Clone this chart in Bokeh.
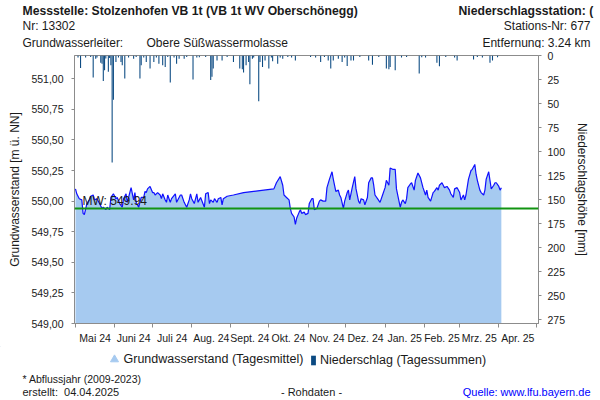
from datetime import date
from bokeh.plotting import figure
from bokeh.layouts import column
from bokeh.models import (Range1d, LinearAxis, FixedTicker, Span, Label, Legend, LegendItem)
from bokeh.embed import file_html
from bokeh.resources import INLINE

# ---------------- data ----------------
START = date(2024, 5, 1)
month_list = [(2024, 5), (2024, 6), (2024, 7), (2024, 8), (2024, 9), (2024, 10), (2024, 11),
              (2024, 12), (2025, 1), (2025, 2), (2025, 3), (2025, 4), (2025, 5)]
month_labels = ["Mai 24", "Juni 24", "Juli 24", "Aug. 24", "Sept. 24", "Okt. 24", "Nov. 24",
                "Dez. 24", "Jan. 25", "Feb. 25", "Mrz. 25", "Apr. 25"]

# groundwater level (daily mean), day offset from 2024-05-01
gw_day = [0, 1, 3, 5, 6, 7, 9, 11, 12, 14, 15, 17, 19, 21, 22, 24, 25, 27, 28, 30,
          32, 33, 35, 37, 38, 40, 41, 42, 44, 46, 47, 48, 50, 51, 52, 54, 55, 56, 57, 59,
          61, 62, 63, 65, 67, 68, 69, 71, 72, 73, 75, 76, 79, 80, 83, 84, 86, 88, 90, 91,
          92, 94, 96, 97, 99, 102, 103, 105, 106, 107, 109, 110, 112, 113, 115, 116, 117, 120, 125, 133,
          141, 149, 157, 159, 162, 164, 165, 167, 169, 170, 171, 173, 174, 175, 177, 178, 179, 181, 182, 184,
          185, 187, 188, 189, 191, 193, 194, 196, 198, 199, 201, 203, 204, 206, 208, 209, 210, 212, 213, 215,
          216, 217, 219, 221, 222, 224, 225, 226, 228, 229, 231, 232, 234, 235, 236, 237, 239, 241, 243, 245,
          246, 248, 249, 251, 253, 254, 255, 257, 258, 259, 261, 262, 263, 265, 266, 268, 269, 271, 273, 275,
          277, 278, 279, 281, 283, 284, 286, 287, 288, 290, 292, 294, 296, 297, 299, 300, 302, 304, 305, 307,
          308, 309, 311, 313, 314, 316, 317, 318, 320, 321, 323, 324, 325, 327, 328, 329, 331, 332, 333, 335,
          336, 337]
gw_level = [550.10, 550.06, 550.02, 550.01, 549.90, 549.89, 549.98, 550.01, 550.04, 550.05,
            550.01, 550.02, 549.98, 549.94, 549.95, 549.93, 549.95, 549.93, 550.03, 550.06,
            550.02, 550.03, 549.98, 549.95, 550.02, 550.06, 549.99, 550.03, 550.11, 550.01,
            550.07, 549.99, 549.95, 549.99, 550.03, 550.03, 550.08, 550.07, 550.10, 550.12,
            550.07, 550.07, 550.05, 550.07, 550.05, 550.02, 550.06, 550.01, 549.99, 550.05,
            549.99, 550.02, 550.06, 549.99, 550.05, 550.05, 549.99, 549.95, 550.01, 550.06,
            550.02, 549.98, 550.06, 549.99, 550.03, 549.95, 550.06, 550.07, 549.98, 550.01,
            549.99, 550.02, 549.99, 550.02, 550.03, 549.97, 550.02, 550.04, 550.05, 550.07,
            550.08, 550.09, 550.10, 550.15, 550.20, 550.13, 550.05, 550.03, 550.01, 549.94,
            549.90, 549.87, 549.81, 549.86, 549.91, 549.93, 549.90, 549.91, 549.89, 549.90,
            549.98, 550.02, 550.02, 549.93, 549.94, 550.00, 550.01, 550.00, 550.00, 550.11,
            550.18, 550.24, 550.18, 550.08, 550.09, 550.05, 550.03, 549.94, 550.00, 550.07,
            550.09, 550.01, 550.11, 550.20, 550.10, 550.00, 549.98, 550.02, 550.01, 549.97,
            550.03, 550.15, 550.19, 550.19, 550.13, 550.05, 550.02, 549.99, 550.05, 550.11,
            550.17, 550.13, 550.27, 550.26, 550.26, 550.10, 550.05, 549.95, 549.99, 550.01,
            549.98, 550.02, 550.11, 550.14, 550.15, 550.09, 550.17, 550.23, 550.19, 550.11,
            550.05, 550.09, 550.03, 550.00, 550.07, 550.08, 550.11, 550.09, 550.13, 550.15,
            550.11, 550.12, 550.09, 550.06, 550.03, 550.10, 550.11, 550.07, 550.01, 550.05,
            550.01, 550.05, 550.18, 550.25, 550.26, 550.30, 550.22, 550.17, 550.09, 550.07,
            550.05, 550.09, 550.18, 550.24, 550.17, 550.10, 550.13, 550.15, 550.15, 550.12,
            550.09, 550.11]

# precipitation (daily sums, mm), day offset from 2024-05-01
pr_day = [2, 4, 8, 12, 14, 16, 17, 20, 21, 22, 23, 24, 26, 27, 28, 29, 30, 32, 34, 36,
          37, 39, 42, 46, 48, 51, 52, 54, 56, 59, 62, 64, 66, 69, 71, 73, 75, 78, 80, 82,
          86, 88, 93, 96, 98, 103, 107, 108, 109, 112, 116, 120, 125, 130, 132, 133, 135, 137, 138, 140,
          141, 145, 146, 148, 150, 153, 155, 156, 160, 162, 164, 168, 171, 174, 186, 190, 194, 197, 200, 202,
          204, 208, 211, 213, 215, 218, 220, 225, 232, 235, 240, 246, 248, 249, 253, 258, 262, 272, 274, 277,
          286, 288, 293, 300, 302, 315, 318, 322, 328, 330, 334]
pr_mm = [2, 13, 2, 1.5, 23, 3.4, 2, 7.5, 8.5, 26.6, 15.3, 3, 17, 2.5, 10.2, 111.5, 46, 6.8, 2, 6.8,
         10.2, 23.9, 2, 3.4, 1.5, 23.9, 10.2, 2, 6.8, 13.6, 6.8, 2, 8.5, 10.2, 11.9, 1.5, 28, 2, 8.5, 3.4,
         3.4, 1.5, 24.9, 2, 1.7, 1.5, 25.6, 22.2, 13.6, 5.1, 5.1, 1.5, 6.8, 13.6, 14.3, 17.7, 10.2, 6.8, 30, 3.4,
         2, 47.7, 6.8, 11.9, 5.1, 13.6, 2, 6.1, 8.5, 2, 3.4, 1.5, 2, 5.1, 1.5, 2, 6.8, 1.5, 5.1, 13.6,
         5.1, 3.4, 6.8, 2, 10.9, 5.1, 5.1, 1.5, 5.1, 9.5, 1.5, 13.6, 14.3, 11.9, 15.3, 2, 1.5, 18.7, 1.7, 2,
         7.5, 11.2, 1.5, 2, 5.1, 4.1, 1.5, 2, 7.5, 5.1, 1.7]

MEAN = 549.94
gw_ticks = [549.00, 549.25, 549.50, 549.75, 550.00, 550.25, 550.50, 550.75, 551.00]
pr_ticks = [0, 25, 50, 75, 100, 125, 150, 175, 200, 225, 250, 275]

assert len(gw_day) == len(gw_level)
assert len(pr_day) == len(pr_mm)

# ---------------- styles ----------------
FONT = "Liberation Sans"
TXT = "#1a1a1a"
AX = "#8c8c8c"
FILL = "#A6CAF0"
LINE = "#1010ff"
BAR = "#0b4a82"
GREEN = "#129412"
W = 600


def text_panel(height, y_top):
    f = figure(width=W, height=height, x_range=Range1d(0, W),
               y_range=Range1d(y_top + height, y_top),
               min_border=0, x_axis_location=None, y_axis_location=None,
               output_backend="svg", toolbar_location=None, frame_align=False)
    f.grid.visible = False
    f.outline_line_color = None
    return f


def lab(f, x, y, text, size="12px", bold=False, align="left", color=TXT):
    f.add_layout(Label(x=x, y=y, text=text, text_font=FONT, text_font_size=size,
                       text_color=color, text_font_style="bold" if bold else "normal",
                       text_align=align, text_baseline="middle"))


# ---------------- header ----------------
head = text_panel(48, 0)
lab(head, 22, 10, "Messstelle: Stolzenhofen VB 1t (VB 1t WV Oberschönegg)", size="12.2px", bold=True)
lab(head, 458, 10, "Niederschlagsstation: (", size="12.2px", bold=True)
lab(head, 22, 25, "Nr: 13302")
lab(head, 590, 25, "Stations-Nr: 677", align="right")
lab(head, 22, 42, "Grundwasserleiter:")
lab(head, 146, 42, "Obere Süßwassermolasse")
lab(head, 590, 42, "Entfernung: 3.24 km", align="right")

# ---------------- main chart ----------------
month_starts = [(date(y, m, 1) - START).days for (y, m) in month_list]
month_mids = [(a + b) / 2 for a, b in zip(month_starts[:-1], month_starts[1:])]

p = figure(width=W, height=298,
           x_range=Range1d(-0.79, 366.4), y_range=Range1d(549.0, 551.19),
           min_border_left=74, min_border_right=62, min_border_top=7, min_border_bottom=18,
           output_backend="svg", toolbar_location=None, frame_align=False)
p.extra_y_ranges = {"precip": Range1d(start=279.0, end=0.0)}
p.grid.visible = False
p.outline_line_color = AX

p.vbar(x=pr_day, top=0, bottom=pr_mm, width=0.85, y_range_name="precip",
       fill_color=BAR, line_color=None)
p.varea(x=gw_day, y1=549.0, y2=gw_level, fill_color=FILL)
p.line(gw_day, gw_level, line_color=LINE, line_width=1.2)

p.add_layout(Span(location=MEAN, dimension="width", line_color=GREEN, line_width=2))
p.add_layout(Label(x=8, x_units="screen", y=MEAN, y_units="data", y_offset=0,
                   text=f"MW: {MEAN:.2f}", text_font=FONT, text_font_size="12px",
                   text_color=TXT, text_baseline="bottom"))

xa = p.xaxis[0]
xa.ticker = FixedTicker(ticks=month_mids, minor_ticks=month_starts)
xa.major_label_overrides = {m: lab_ for m, lab_ in zip(month_mids, month_labels)}
xa.major_tick_line_color = None
xa.major_tick_out = 0
xa.major_tick_in = 0
xa.minor_tick_line_color = AX
xa.minor_tick_out = 4
xa.minor_tick_in = 0
xa.axis_line_color = AX
xa.major_label_text_font = FONT
xa.major_label_text_font_size = "10.5px"
xa.major_label_text_color = TXT
xa.major_label_standoff = 4

ya = p.yaxis[0]
ya.ticker = FixedTicker(ticks=gw_ticks, minor_ticks=[])
ya.major_label_overrides = {t: f"{t:.2f}".replace(".", ",") for t in gw_ticks}
ya.major_tick_out = 3
ya.major_tick_in = 0
ya.major_tick_line_color = AX
ya.minor_tick_line_color = None
ya.axis_line_color = AX
ya.major_label_text_font = FONT
ya.major_label_text_font_size = "10.5px"
ya.major_label_text_color = TXT
ya.major_label_standoff = 8
ya.axis_label = "Grundwasserstand [m ü. NN]"
ya.axis_label_text_font = FONT
ya.axis_label_text_font_size = "12px"
ya.axis_label_text_font_style = "normal"
ya.axis_label_text_color = TXT
ya.axis_label_standoff = 6

ra = LinearAxis(y_range_name="precip", ticker=FixedTicker(ticks=pr_ticks, minor_ticks=[]))
ra.major_tick_out = 3
ra.major_tick_in = 0
ra.major_tick_line_color = AX
ra.minor_tick_line_color = None
ra.axis_line_color = AX
ra.major_label_text_font = FONT
ra.major_label_text_font_size = "10.5px"
ra.major_label_text_color = TXT
ra.major_label_standoff = 6
ra.axis_label = "Niederschlagshöhe [mm]"
ra.axis_label_text_font = FONT
ra.axis_label_text_font_size = "12px"
ra.axis_label_text_font_style = "normal"
ra.axis_label_text_color = TXT
ra.axis_label_standoff = 7
p.add_layout(ra, "right")

# ---------------- footer (legend + notes) ----------------
foot = text_panel(54, 346)
# legend swatch renderers (kept outside the visible range, only their legend glyphs show)
tri = foot.scatter(x=[-50], y=[-50], marker="triangle", size=8, fill_color=FILL, line_color=FILL)
sq = foot.vbar(x=[-50], top=[-50], bottom=[-60], width=1, fill_color=BAR, line_color=None)

leg1 = Legend(items=[LegendItem(label="Grundwasserstand (Tagesmittel)", renderers=[tri])],
              location=(103.5, 31), orientation="horizontal",
              glyph_width=20, glyph_height=20, label_height=20, label_standoff=0,
              padding=0, margin=0, spacing=0, border_line_color=None, background_fill_alpha=0,
              label_text_font=FONT, label_text_font_size="12.5px", label_text_color=TXT)
leg2 = Legend(items=[LegendItem(label="Niederschlag (Tagessummen)", renderers=[sq])],
              location=(310, 33), orientation="horizontal",
              glyph_width=6, glyph_height=12, label_height=12, label_standoff=4,
              padding=0, margin=0, spacing=0, border_line_color=None, background_fill_alpha=0,
              label_text_font=FONT, label_text_font_size="12.5px", label_text_color=TXT)
foot.add_layout(leg1, "center")
foot.add_layout(leg2, "center")

lab(foot, 22, 378, "* Abflussjahr (2009-2023)", size="10.5px")
lab(foot, 22, 391, "erstellt:\u00a0\u00a004.04.2025", size="11px")
lab(foot, 311, 391, "- Rohdaten -", size="11px", align="center")
lab(foot, 590, 391, "Quelle: www.lfu.bayern.de", size="11px", align="right", color="#0000ff")

layout = column(head, p, foot, spacing=0)
open("out.html", "w").write(file_html(layout, INLINE))
